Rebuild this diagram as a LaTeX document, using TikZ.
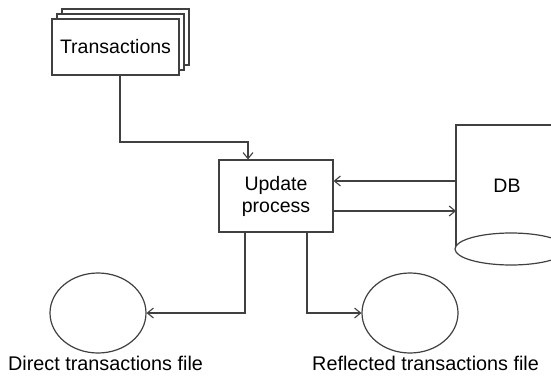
\documentclass[tikz,border=0pt]{standalone}
\usepackage{fontspec}
\setmainfont{Liberation Sans}
\usetikzlibrary{arrows.meta,shapes.geometric,shadows}
\begin{document}
\begin{tikzpicture}[x=1pt,y=-1pt,
  ln/.style={draw=black!75, line width=1.2pt},
  arr/.style={ln, -{Straight Barb[length=6pt,width=10pt,line width=1.1pt]}},
  box/.style={ln, fill=white, rectangle, inner sep=0pt, align=center, font=\fontsize{19.5}{22}\selectfont},
  file/.style={ln, ellipse, minimum width=96pt, minimum height=80pt, inner sep=0pt},
  lbl/.style={font=\fontsize{19.8}{22}\selectfont, inner sep=0pt, anchor=west}]
\clip (0,0) rectangle (551,375);
\fill[white] (0,0) rectangle (551,375);
% Transactions (stacked)
\node[box, minimum width=127pt, minimum height=56pt,
  double copy shadow={shadow xshift=5pt, shadow yshift=5pt}] (tr) at (115.5,47) {Transactions};
% Update process
\node[box, minimum width=114pt, minimum height=72pt] (up) at (276,196) {Update\\process};
% DB
\node[inner sep=0pt, minimum width=100pt, minimum height=124pt, anchor=north west] (db) at (456,125) {};
\draw[ln] (556,125) -- (db.north west) -- (456,249);
\node[ln, ellipse, minimum width=112pt, minimum height=32pt, inner sep=0pt, fill=white] (dbb) at (511,249) {};
\node[font=\fontsize{19.5}{22}\selectfont, inner sep=0pt] (dbt) at (507,186) {DB};
% Files
\node[file] (f1) at (98,313) {};
\node[file] (f2) at (410,313) {};
\node[lbl] (l1) at (8,363) {Direct transactions file};
\node[lbl] (l2) at (312,363) {Reflected transactions file};
% Connectors
\coordinate (c1) at (120,142);
\draw[arr] (tr.south -| c1) -- (c1) -- (248,142) -- (up.north -| 248,0);
\draw[arr] (db.west |- 0,181) -- (up.east |- 0,181);
\draw[arr] (up.east |- 0,211) -- (db.west |- 0,211);
\draw[arr] (up.south -| 245,0) -- (245,313) -- (f1.east);
\draw[arr] (up.south -| 307,0) -- (307,313) -- (f2.west);
\end{tikzpicture}
\end{document}
